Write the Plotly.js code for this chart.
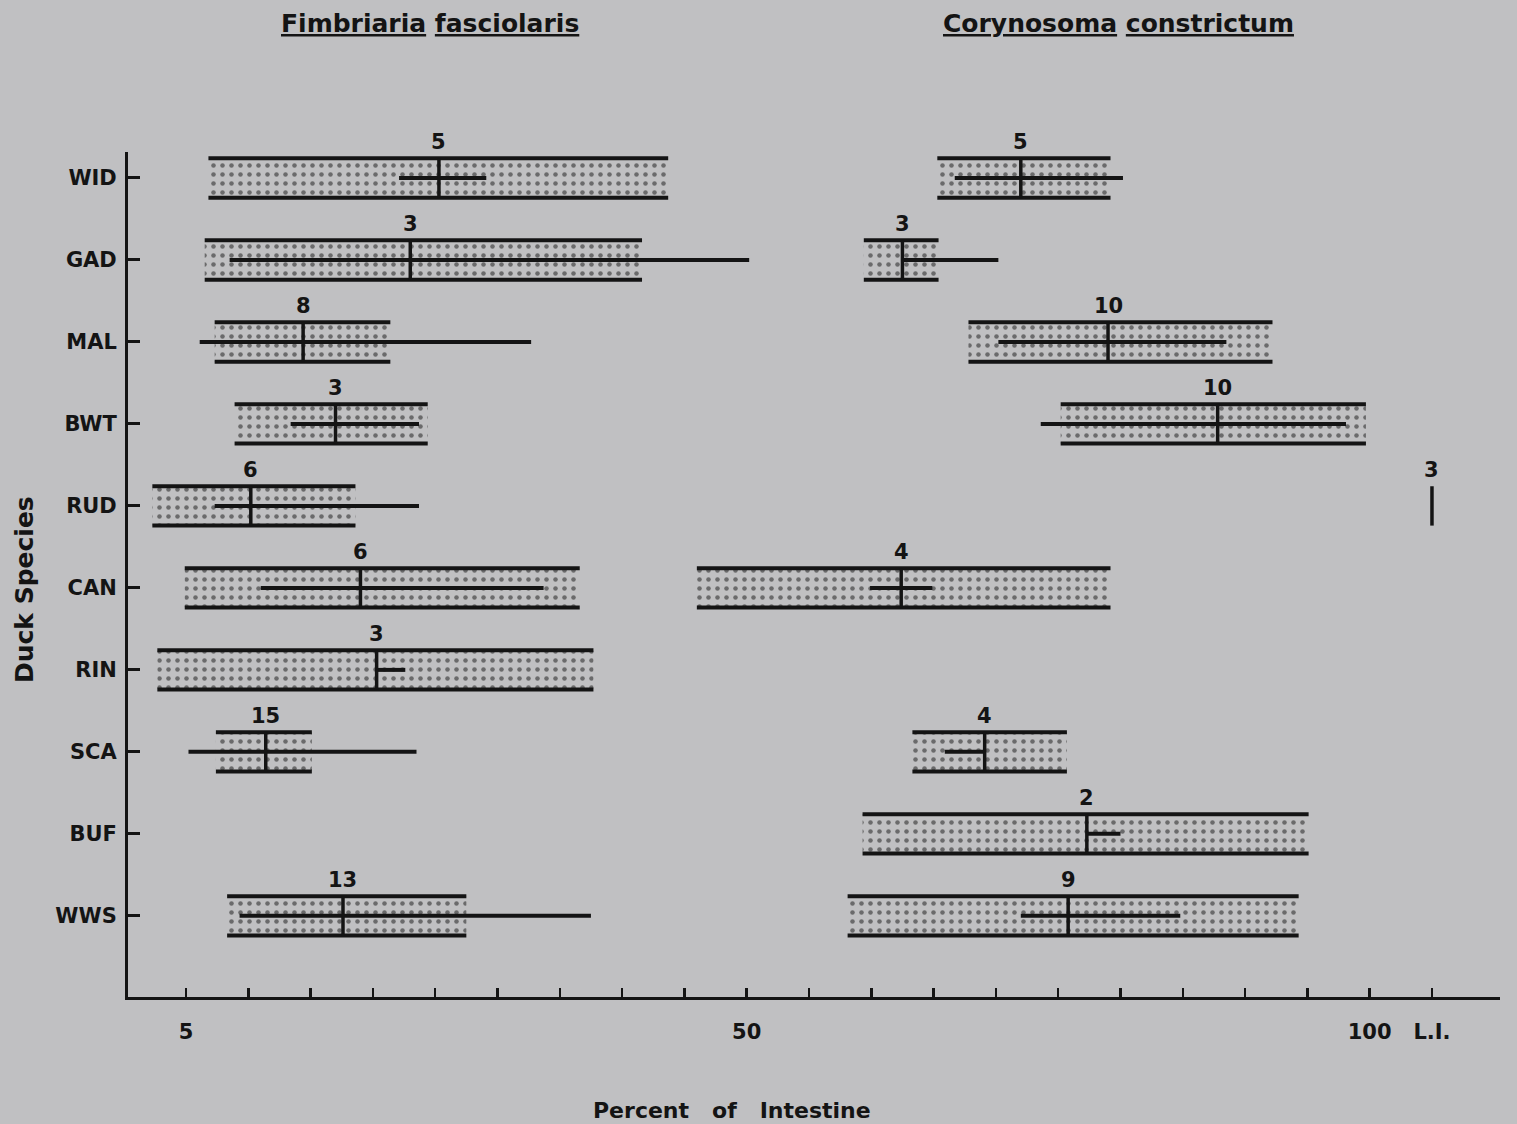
<!DOCTYPE html>
<html><head><meta charset="utf-8">
<script src="https://cdn.plot.ly/plotly-3.0.1.min.js"></script>
<style>html,body{margin:0;padding:0;background:#c0c0c2}</style>
</head><body><div id="chart" style="width:1517px;height:1124px"></div>
<script>
const species = ['WID','GAD','MAL','BWT','RUD','CAN','RIN','SCA','BUF','WWS'];
// Fimbriaria fasciolaris (percent of intestine)
const fimCount     = [5, 3, 8, 3, 6, 6, 3, 15, null, 13];
const fimBoxLow    = [6.8, 6.5, 7.3, 8.9, 2.3, 4.9, 2.7, 7.4, null, 8.3];
const fimBoxHigh   = [43.7, 41.6, 21.4, 24.4, 18.6, 36.6, 37.7, 15.1, null, 27.5];
const fimMedian    = [25.3, 23.0, 14.4, 17.0, 10.2, 19.0, 20.3, 11.4, null, 17.6];
const fimRangeLow  = [22.1, 8.5, 6.1, 13.4, 7.3, 11.0, 20.3, 5.2, null, 9.3];
const fimRangeHigh = [29.1, 50.2, 32.7, 23.7, 23.7, 33.7, 22.6, 23.5, null, 37.5];
// Corynosoma constrictum (105 = L.I.)
const corCount     = [5, 3, 10, 10, 3, 4, null, 4, 2, 9];
const corBoxLow    = [65.3, 59.4, 67.8, 75.2, null, 46.0, null, 63.3, 59.3, 58.1];
const corBoxHigh   = [79.2, 65.4, 92.2, 99.7, null, 79.2, null, 75.7, 95.1, 94.3];
const corMedian    = [72.0, 62.5, 79.0, 87.8, 105, 62.4, null, 69.1, 77.3, 75.8];
const corRangeLow  = [66.7, 62.5, 70.2, 73.6, null, 59.9, null, 65.9, 77.3, 72.0];
const corRangeHigh = [80.2, 70.2, 88.5, 98.1, null, 64.9, null, 69.1, 80.0, 84.8];
// x axis ticks
const tickValues = [5,10,15,20,25,30,35,40,45,50,55,60,65,70,75,80,85,90,95,100,105];
const tickLabels = ['5','','','','','','','','','50','','','','','','','','','','100','L.I.'];

const INK = '#141414';
const BG = '#c0c0c2';
const HALF = 0.24;
const FONT = 'DejaVu Sans, Liberation Sans, Arial, sans-serif';
const idx = species.map((s, i) => i);

function barTrace(lo, hi) {
  const ys = [], bs = [], ws = [];
  idx.forEach(i => { if (lo[i] != null) { ys.push(i); bs.push(lo[i]); ws.push(hi[i] - lo[i]); } });
  return {
    type: 'bar', orientation: 'h', y: ys, base: bs, x: ws, width: HALF * 2,
    marker: { color: BG, line: { width: 0 },
      pattern: { shape: '.', fgcolor: INK, bgcolor: BG, size: 9, solidity: 0.2, fillmode: 'overlay' } },
    hoverinfo: 'skip', showlegend: false
  };
}
function edgeTrace(lo, hi) {
  const xs = [], ys = [];
  idx.forEach(i => { if (lo[i] != null) {
    xs.push(lo[i], hi[i], null, lo[i], hi[i], null);
    ys.push(i - HALF, i - HALF, null, i + HALF, i + HALF, null);
  }});
  return { type: 'scatter', mode: 'lines', x: xs, y: ys, line: { color: INK, width: 4 }, hoverinfo: 'skip', showlegend: false };
}
function rangeTrace(lo, hi) {
  const xs = [], ys = [];
  idx.forEach(i => { if (lo[i] != null) { xs.push(lo[i], hi[i], null); ys.push(i, i, null); } });
  return { type: 'scatter', mode: 'lines', x: xs, y: ys, line: { color: INK, width: 4 }, hoverinfo: 'skip', showlegend: false };
}
function medianTrace(med) {
  const xs = [], ys = [];
  idx.forEach(i => { if (med[i] != null) { xs.push(med[i], med[i], null); ys.push(i - HALF, i + HALF, null); } });
  return { type: 'scatter', mode: 'lines', x: xs, y: ys, line: { color: INK, width: 3.5 }, hoverinfo: 'skip', showlegend: false };
}
function countAnnots(med, cnt) {
  const a = [];
  idx.forEach(i => { if (cnt[i] != null) a.push({
    x: med[i], y: i - HALF, xref: 'x', yref: 'y', text: String(cnt[i]), showarrow: false,
    xanchor: 'center', yanchor: 'bottom', yshift: 2, font: { family: FONT, size: 21, color: INK, weight: 'bold' }
  }); });
  return a;
}

const data = [
  barTrace(fimBoxLow, fimBoxHigh), barTrace(corBoxLow, corBoxHigh),
  edgeTrace(fimBoxLow, fimBoxHigh), edgeTrace(corBoxLow, corBoxHigh),
  rangeTrace(fimRangeLow, fimRangeHigh), rangeTrace(corRangeLow, corRangeHigh),
  medianTrace(fimMedian), medianTrace(corMedian)
];

const titleFont = { family: FONT, size: 25, color: INK, weight: 'bold' };
const annotations = countAnnots(fimMedian, fimCount).concat(countAnnots(corMedian, corCount)).concat([
  { xref: 'paper', yref: 'paper', x: 0.220, y: 1.152, text: '<u>Fimbriaria</u> <u>fasciolaris</u>', showarrow: false, xanchor: 'center', yanchor: 'middle', font: titleFont },
  { xref: 'paper', yref: 'paper', x: 0.7216, y: 1.152, text: '<u>Corynosoma</u> <u>constrictum</u>', showarrow: false, xanchor: 'center', yanchor: 'middle', font: titleFont },
  { xref: 'paper', yref: 'paper', x: 0.440, y: -0.134, text: 'Percent\u00a0\u00a0\u00a0of\u00a0\u00a0\u00a0Intestine', showarrow: false, xanchor: 'center', yanchor: 'middle', font: { family: FONT, size: 22, color: INK, weight: 'bold' } },
  { xref: 'paper', yref: 'paper', x: -0.075, y: 0.4817, text: 'Duck Species', textangle: -90, showarrow: false, xanchor: 'center', yanchor: 'middle', font: { family: FONT, size: 25, color: INK, weight: 'bold' } }
]);

const layout = {
  width: 1517, height: 1124,
  paper_bgcolor: BG, plot_bgcolor: BG,
  margin: { l: 128, r: 17, t: 152, b: 127 },
  barmode: 'overlay', showlegend: false,
  xaxis: {
    range: [0.345, 110.46], showgrid: false, zeroline: false,
    showline: true, linecolor: INK, linewidth: 3,
    ticks: 'inside', ticklen: 9, tickwidth: 2.5, tickcolor: INK,
    tickmode: 'array', tickvals: tickValues, ticktext: tickLabels,
    ticklabelstandoff: 14,
    tickfont: { family: FONT, size: 21, color: INK, weight: 'bold' }
  },
  yaxis: {
    range: [9.99, -0.317], showgrid: false, zeroline: false,
    showline: true, linecolor: INK, linewidth: 3,
    ticks: 'inside', ticklen: 12, tickwidth: 3, tickcolor: INK,
    tickmode: 'array', tickvals: idx, ticktext: species,
    ticklabelstandoff: 4,
    tickfont: { family: FONT, size: 21, color: INK, weight: 'bold' }
  },
  annotations: annotations
};

Plotly.newPlot('chart', data, layout, { displayModeBar: false, staticPlot: true });
</script></body></html>
